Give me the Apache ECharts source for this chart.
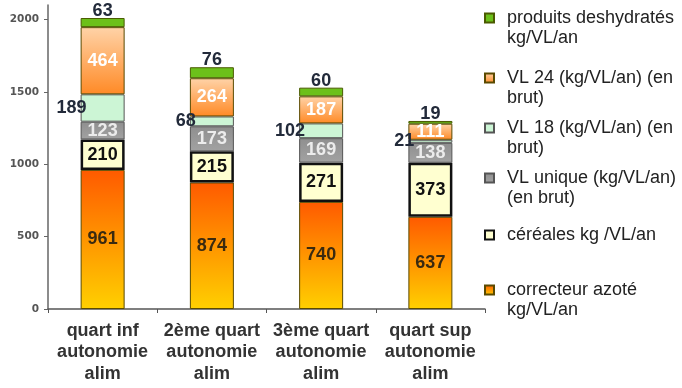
<!DOCTYPE html>
<html><head><meta charset="utf-8">
<script src="https://cdn.jsdelivr.net/npm/echarts@6/dist/echarts.min.js"></script>
<style>html,body{margin:0;padding:0;background:#fff}#c{width:682px;height:388px}</style>
</head><body><div id="c"></div>
<script>
const categories = ['quart inf\nautonomie\nalim', '2ème quart\nautonomie\nalim', '3ème quart\nautonomie\nalim', 'quart sup\nautonomie\nalim'];
const correcteur = [961, 874, 740, 637];
const cereales = [210, 215, 271, 373];
const vlUnique = [123, 173, 169, 138];
const vl18 = [189, 68, 102, 21];
const vl24 = [464, 264, 187, 111];
const deshydrates = [63, 76, 60, 19];
const yTicks = [0, 500, 1000, 1500, 2000];

const names = {
  corr: 'correcteur azoté kg/VL/an',
  cer: 'céréales kg /VL/an',
  uni: 'VL unique (kg/VL/an) (en brut)',
  v18: 'VL 18 (kg/VL/an) (en brut)',
  v24: 'VL 24 (kg/VL/an) (en brut)',
  des: 'produits deshydratés kg/VL/an'
};
const legendText = {};
legendText[names.des] = 'produits deshydratés\nkg/VL/an';
legendText[names.v24] = 'VL 24 (kg/VL/an) (en\nbrut)';
legendText[names.v18] = 'VL 18 (kg/VL/an) (en\nbrut)';
legendText[names.uni] = 'VL unique (kg/VL/an)\n(en brut)';
legendText[names.cer] = 'céréales kg /VL/an';
legendText[names.corr] = 'correcteur azoté\nkg/VL/an';

function grad(top, bottom) {
  return new echarts.graphic.LinearGradient(0, 0, 0, 1, [{offset: 0, color: top}, {offset: 1, color: bottom}]);
}
const lblBase = {show: true, fontFamily: 'Liberation Sans', fontWeight: 'bold', fontSize: 18};
const BW = 44;
const series = [
  {name: names.corr, data: correcteur, itemStyle: {color: grad('#FF5A00', '#FFD000'), borderColor: '#5a4a00', borderWidth: 1},
   label: Object.assign({}, lblBase, {color: '#3a2a10', position: 'inside'})},
  {name: names.cer, data: cereales, itemStyle: {color: '#FFFFD0', borderColor: '#111', borderWidth: 2.5},
   label: Object.assign({}, lblBase, {color: '#111', position: 'inside'})},
  {name: names.uni, data: vlUnique, itemStyle: {color: grad('#8f8f8f', '#a2a2a2'), borderColor: '#555', borderWidth: 1},
   label: Object.assign({}, lblBase, {color: '#ececec', position: 'inside'})},
  {name: names.v18, data: vl18, itemStyle: {color: '#CCF5D5', borderColor: '#555', borderWidth: 1},
   label: Object.assign({}, lblBase, {color: '#222a3a', position: 'left', distance: -6})},
  {name: names.v24, data: vl24, itemStyle: {color: grad('#FFD3A8', '#FF8A26'), borderColor: '#5a4a00', borderWidth: 1},
   label: Object.assign({}, lblBase, {color: '#ffffff', position: 'inside'})},
  {name: names.des, data: deshydrates, itemStyle: {color: '#6CC01A', borderColor: '#4a5a00', borderWidth: 1},
   label: Object.assign({}, lblBase, {color: '#222a3a', position: 'top', distance: -2})}
].map(s => Object.assign({type: 'bar', stack: 'total', barWidth: BW}, s));

const LH = 20;
const legendOrder = [names.des, names.v24, names.v18, names.uni, names.cer, names.corr];
const legendFirstLine = [18, 78, 128, 178, 235, 290];
const legends = legendOrder.map((n, i) => {
  const twoLines = legendText[n].indexOf('\n') >= 0;
  return {
    data: [n], left: 484, top: legendFirstLine[i] - (twoLines ? 1.5 * LH : 0.5 * LH), padding: 0,
    orient: 'vertical', icon: 'rect', itemWidth: 9, itemHeight: 9, selectedMode: false,
    formatter: name => (legendText[name].indexOf('\n') >= 0 ? ' \n' : '') + legendText[name],
    textStyle: {fontFamily: 'Liberation Sans', fontSize: 18, color: '#222', lineHeight: LH,
      padding: [0, 0, 0, 8]}
  };
});

const chart = echarts.init(document.getElementById('c'));
chart.setOption({
  animation: false,
  backgroundColor: '#fff',
  legend: legends,
  grid: {left: 48, top: 5, width: 437, bottom: 79},
  xAxis: {type: 'category', data: categories,
    axisLine: {lineStyle: {color: '#555', width: 1.5}},
    axisTick: {show: true, length: 4, lineStyle: {color: '#555'}},
    axisLabel: {fontFamily: 'Liberation Sans', fontWeight: 'bold', fontSize: 18, color: '#333', lineHeight: 21.5, margin: 11, interval: 0}
  },
  yAxis: {type: 'value', min: 0, max: 2100, interval: 500,
    splitLine: {show: false},
    axisLine: {show: true, lineStyle: {color: '#666', width: 1.5}},
    axisTick: {show: true, length: 4, lineStyle: {color: '#666'}},
    axisLabel: {showMaxLabel: false, fontFamily: 'DejaVu Sans', fontWeight: 'bold', fontSize: 10.5, color: '#555', margin: 9,
      formatter: v => yTicks.indexOf(v) >= 0 ? String(v) : ''}
  },
  series: series
});
</script></body></html>
